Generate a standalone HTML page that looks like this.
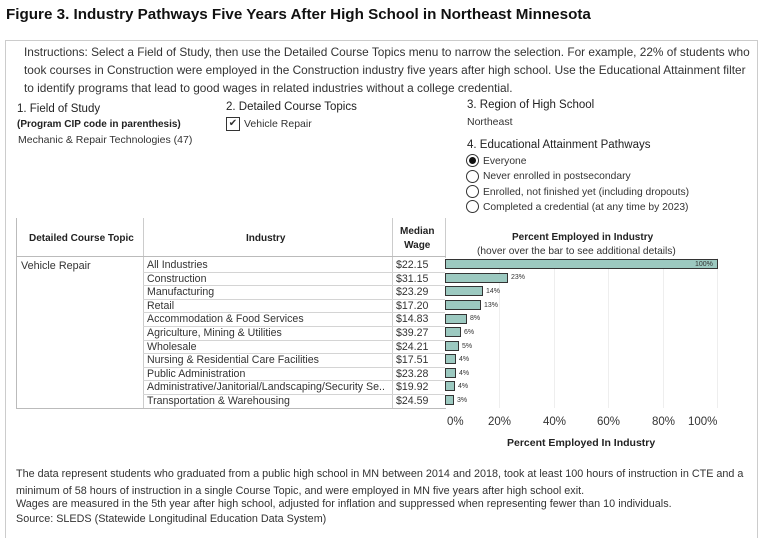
<!DOCTYPE html>
<html><head><meta charset="utf-8"><style>
body{margin:0;width:763px;height:540px;background:#fff;font-family:"Liberation Sans Narrow","Liberation Sans",sans-serif;color:#333;position:relative;overflow:hidden}
.a{position:absolute;white-space:nowrap}
.b{font-weight:bold}
.r{position:absolute;left:143px;width:302px;height:13.6px;border-bottom:1px solid #d4d4d4;font-size:10.6px;line-height:15px}
.r span{position:absolute}
.bar{position:absolute;left:445px;height:10px;background:#9cc9c0;border:1px solid #333;box-sizing:border-box}
.pl{position:absolute;font-size:7px;color:#333}
.g{position:absolute;top:258px;height:150px;width:1px;background:#eee}
.rad{position:absolute;width:13px;height:13px;border:1px solid #333;border-radius:50%;box-sizing:border-box;background:#fff}
</style></head><body>
<div class="a b" style="left:6px;top:6px;font-size:15.2px;color:#111">Figure 3. Industry Pathways Five Years After High School in Northeast Minnesota</div>
<div style="position:absolute;left:5px;top:40px;width:751px;height:497px;border:1px solid #ccc;border-bottom:none"></div>
<div class="a" style="left:24px;top:43px;line-height:18px;font-size:11.85px">Instructions: Select a Field of Study, then use the Detailed Course Topics menu to narrow the selection. For example, 22% of students who<br>took courses in Construction were employed in the Construction industry five years after high school. Use the Educational Attainment filter<br>to identify programs that lead to good wages in related industries without a college credential.</div>
<div class="a" style="left:17px;top:103px;font-size:11.5px;color:#222">1. Field of Study</div>
<div class="a b" style="left:17px;top:119px;font-size:10px;color:#222">(Program CIP code in parenthesis)</div>
<div class="a" style="left:18px;top:134px;font-size:10.5px">Mechanic &amp; Repair Technologies (47)</div>
<div class="a" style="left:226px;top:101px;font-size:11.5px;color:#222">2. Detailed Course Topics</div>
<div style="position:absolute;left:226px;top:117px;width:14px;height:14px;border:1px solid #333;box-sizing:border-box;font-size:10px;line-height:12px;text-align:center">✔</div>
<div class="a" style="left:244px;top:118px;font-size:10.5px">Vehicle Repair</div>
<div class="a" style="left:467px;top:99px;font-size:11.5px;color:#222">3. Region of High School</div>
<div class="a" style="left:467px;top:116px;font-size:10.5px">Northeast</div>
<div class="a" style="left:467px;top:139px;font-size:11.5px;color:#222">4. Educational Attainment Pathways</div>
<div class="rad" style="left:466px;top:154px"><div style="position:absolute;left:2px;top:2px;width:7px;height:7px;border-radius:50%;background:#111"></div></div>
<div class="rad" style="left:466px;top:170px"></div><div class="rad" style="left:466px;top:185px"></div><div class="rad" style="left:466px;top:200px"></div>
<div class="a" style="left:483px;top:154px;font-size:10.3px;line-height:15.3px">Everyone<br>Never enrolled in postsecondary<br>Enrolled, not finished yet (including dropouts)<br>Completed a credential (at any time by 2023)</div>
<div style="position:absolute;left:16px;top:218px;width:429px;height:190px;border-left:1px solid #bbb;border-bottom:1px solid #bbb"></div>
<div style="position:absolute;left:143px;top:218px;width:1px;height:190px;background:#ccc"></div>
<div style="position:absolute;left:392px;top:218px;width:1px;height:190px;background:#ccc"></div>
<div style="position:absolute;left:445px;top:218px;width:1px;height:40px;background:#ccc"></div>
<div style="position:absolute;left:16px;top:256px;width:430px;height:1px;background:#bbb"></div>
<div class="a b" style="left:29px;top:233px;font-size:10px;color:#222">Detailed Course Topic</div>
<div class="a b" style="left:246px;top:233px;font-size:10px;color:#222">Industry</div>
<div class="a b" style="left:400px;top:225px;font-size:10px;color:#222;text-align:center;line-height:14px">Median<br>Wage</div>
<div class="a" style="left:21px;top:260px;font-size:10.8px">Vehicle Repair</div>
<div class="a b" style="left:512px;top:232px;font-size:10px;color:#222">Percent Employed in Industry</div>
<div class="a" style="left:477px;top:246px;font-size:10.2px">(hover over the bar to see additional details)</div>
<div class="g" style="left:499px"></div><div class="g" style="left:554px"></div><div class="g" style="left:608px"></div><div class="g" style="left:663px"></div><div class="g" style="left:717px"></div>
<div class="r" style="top:258px"><span style="left:4px">All Industries</span><span style="left:253px">$22.15</span></div>
<div class="r" style="top:271.6px"><span style="left:4px">Construction</span><span style="left:253px">$31.15</span></div>
<div class="r" style="top:285.2px"><span style="left:4px">Manufacturing</span><span style="left:253px">$23.29</span></div>
<div class="r" style="top:298.8px"><span style="left:4px">Retail</span><span style="left:253px">$17.20</span></div>
<div class="r" style="top:312.4px"><span style="left:4px">Accommodation &amp; Food Services</span><span style="left:253px">$14.83</span></div>
<div class="r" style="top:326px"><span style="left:4px">Agriculture, Mining &amp; Utilities</span><span style="left:253px">$39.27</span></div>
<div class="r" style="top:339.6px"><span style="left:4px">Wholesale</span><span style="left:253px">$24.21</span></div>
<div class="r" style="top:353.2px"><span style="left:4px">Nursing &amp; Residential Care Facilities</span><span style="left:253px">$17.51</span></div>
<div class="r" style="top:366.8px"><span style="left:4px">Public Administration</span><span style="left:253px">$23.28</span></div>
<div class="r" style="top:380.4px"><span style="left:4px">Administrative/Janitorial/Landscaping/Security Se..</span><span style="left:253px">$19.92</span></div>
<div class="r" style="top:394px;border-bottom:none"><span style="left:4px">Transportation &amp; Warehousing</span><span style="left:253px">$24.59</span></div>
<div class="bar" style="top:259px;width:273px"></div><div class="pl" style="left:695px;top:261px">100%</div>
<div class="bar" style="top:273px;width:63px"></div><div class="pl" style="left:511px;top:274px">23%</div>
<div class="bar" style="top:286px;width:38px"></div><div class="pl" style="left:486px;top:288px">14%</div>
<div class="bar" style="top:300px;width:36px"></div><div class="pl" style="left:484px;top:302px">13%</div>
<div class="bar" style="top:314px;width:22px"></div><div class="pl" style="left:470px;top:315px">8%</div>
<div class="bar" style="top:327px;width:16px"></div><div class="pl" style="left:464px;top:329px">6%</div>
<div class="bar" style="top:341px;width:14px"></div><div class="pl" style="left:462px;top:343px">5%</div>
<div class="bar" style="top:354px;width:11px"></div><div class="pl" style="left:459px;top:356px">4%</div>
<div class="bar" style="top:368px;width:11px"></div><div class="pl" style="left:459px;top:370px">4%</div>
<div class="bar" style="top:381px;width:10px"></div><div class="pl" style="left:458px;top:383px">4%</div>
<div class="bar" style="top:395px;width:9px"></div><div class="pl" style="left:457px;top:397px">3%</div>
<div class="a" style="left:447px;top:416px;font-size:11.5px">0%</div>
<div class="a" style="left:488px;top:416px;font-size:11.5px">20%</div>
<div class="a" style="left:543px;top:416px;font-size:11.5px">40%</div>
<div class="a" style="left:597px;top:416px;font-size:11.5px">60%</div>
<div class="a" style="left:652px;top:416px;font-size:11.5px">80%</div>
<div class="a" style="left:688px;top:416px;font-size:11.5px">100%</div>
<div class="a b" style="left:507px;top:437px;font-size:10.5px;color:#222">Percent Employed In Industry</div>
<div class="a" style="left:16px;top:466px;font-size:10.8px;line-height:17px">The data represent students who graduated from a public high school in MN between 2014 and 2018, took at least 100 hours of instruction in CTE and a<br>minimum of 58 hours of instruction in a single Course Topic, and were employed in MN five years after high school exit.</div>
<div class="a" style="left:16px;top:497px;font-size:10.8px;line-height:15px">Wages are measured in the 5th year after high school, adjusted for inflation and suppressed when representing fewer than 10 individuals.<br>Source: SLEDS (Statewide Longitudinal Education Data System)</div>
</body></html>
